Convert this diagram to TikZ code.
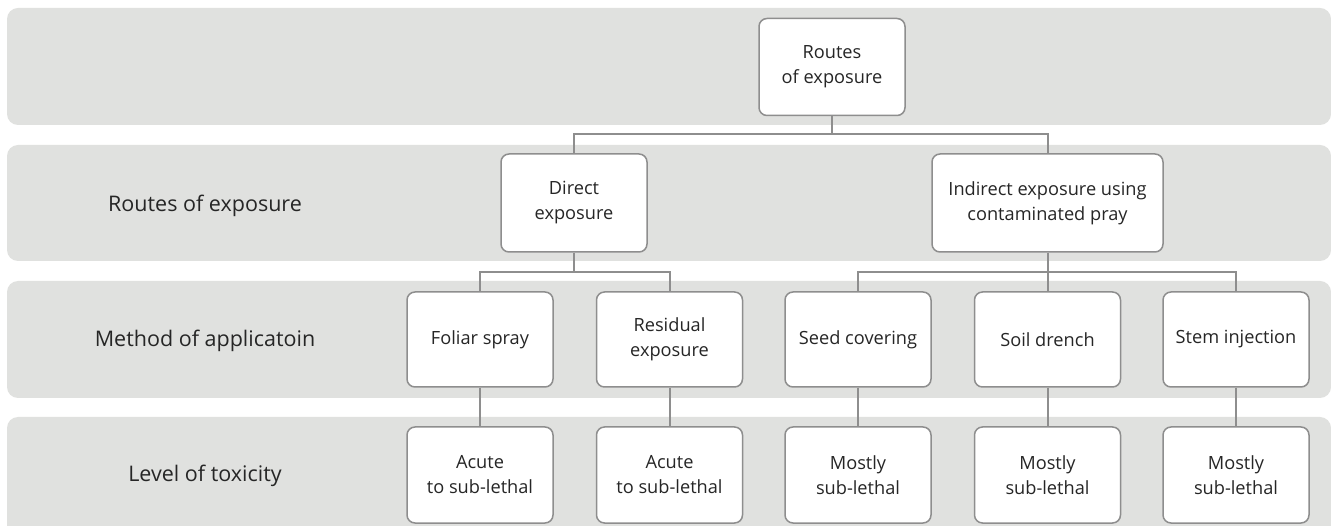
\documentclass[tikz,border=0pt]{standalone}
\usepackage{fontspec}
\setmainfont{Open Sans}
\definecolor{bandgray}{HTML}{E0E1DF}
\definecolor{linegray}{HTML}{8E8E8E}
\definecolor{inkgray}{HTML}{262626}
\tikzset{
  band/.style={fill=bandgray, rounded corners=11pt},
  box/.style={draw=linegray, line width=1.5pt, fill=white, rounded corners=8pt,
    minimum width=146pt, minimum height=96pt, align=center, inner sep=0pt,
    text=inkgray, font=\fontsize{18.2}{25}\selectfont},
  widebox/.style={box, minimum width=231pt},
  rowlabel/.style={text=inkgray, font=\fontsize{21.5}{25}\selectfont, inner sep=0pt},
  link/.style={draw=linegray, line width=2pt}
}
\begin{document}
\begin{tikzpicture}[x=1pt,y=-1pt]
\useasboundingbox (0,0) rectangle (1331,526);
\clip (0,0) rectangle (1331,526);
\fill[white] (0,0) rectangle (1331,526);

% horizontal bands, one per level
\fill[band] (7,8)   rectangle (1331,125);
\fill[band] (7,145) rectangle (1331,261);
\fill[band] (7,281) rectangle (1331,398);
\fill[band] (7,417) rectangle (1331,545);

% row captions
\node[rowlabel] (lab1) at (205,205.5) {Routes of exposure};
\node[rowlabel] (lab2) at (205,340.5) {Method of applicatoin};
\node[rowlabel] (lab3) at (205,476) {Level of toxicity};

% tree nodes
\node[box, minimum height=97pt] (root) at (832,67) {Routes\\of exposure};
\node[box, minimum height=98pt] (direct) at (574,203) {Direct\\exposure};
\node[widebox, minimum height=98pt] (indirect) at (1047.5,203) {Indirect exposure using\\contaminated pray};

\node[box, minimum height=95pt] (foliar)   at (480,339.5)  {Foliar spray};
\node[box, minimum height=95pt] (residual) at (669.5,339.5) {Residual\\exposure};
\node[box, minimum height=95pt] (seed)     at (858,339.5)  {Seed covering};
\node[box, minimum height=95pt] (soil)     at (1047.5,339.5) {Soil drench};
\node[box, minimum height=95pt] (stem)     at (1236,339.5) {Stem injection};

\node[box] (tox1) at (480,475)    {Acute\\to sub-lethal};
\node[box] (tox2) at (669.5,475)  {Acute\\to sub-lethal};
\node[box] (tox3) at (858,475)    {Mostly\\sub-lethal};
\node[box] (tox4) at (1047.5,475) {Mostly\\sub-lethal};
\node[box] (tox5) at (1236,475)   {Mostly\\sub-lethal};

% branching connectors
\coordinate (bus1) at (832,134);
\coordinate (bus2) at (574,272);
\coordinate (bus3) at (1047.5,272);

\draw[link] (root.south) -- (bus1);
\draw[link] (direct.north) |- (bus1) -| (indirect.north);

\draw[link] (direct.south) -- (bus2);
\draw[link] (foliar.north) |- (bus2) -| (residual.north);

\draw[link] (indirect.south) -- (soil.north);
\draw[link] (seed.north) |- (bus3) -| (stem.north);

\draw[link] (foliar.south)   -- (tox1.north);
\draw[link] (residual.south) -- (tox2.north);
\draw[link] (seed.south)     -- (tox3.north);
\draw[link] (soil.south)     -- (tox4.north);
\draw[link] (stem.south)     -- (tox5.north);
\end{tikzpicture}
\end{document}
